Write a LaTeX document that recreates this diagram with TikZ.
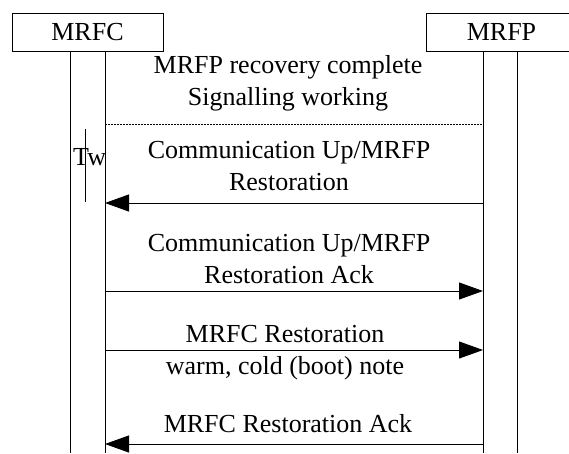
\documentclass[tikz,border=0pt]{standalone}
\usepackage{fontspec}
\setmainfont{Liberation Serif}
\usetikzlibrary{arrows.meta}

\tikzset{
  entity/.style={draw, line width=1pt, minimum width=151pt, minimum height=38pt, inner sep=0pt},
  lifeline/.style={line width=1pt},
  msg/.style={line width=1pt, -{Triangle[length=24pt,width=17pt]}},
  lbl/.style={align=center, inner sep=0pt},
}

\begin{document}
\begin{tikzpicture}[x=1pt,y=-1pt,font=\fontsize{26}{32}\selectfont]
  \useasboundingbox (0,0) rectangle (569,453);

  % entities at the top
  \node[entity] (mrfc) at (87.5,32) {MRFC};
  \node[entity] (mrfp) at (501.5,32) {MRFP};

  % two lifelines below each entity
  \foreach \n/\x in {ca/70, cb/105, pa/483, pb/517}
    {\coordinate (\n top) at (\x,51);
     \coordinate (\n bot) at (\x,453);
     \draw[lifeline] (\n top) -- (\n bot);}

  % end points of the messages
  \foreach \i/\y in {0/124, 1/203, 2/291, 3/350, 4/444}
    {\coordinate (c\i) at (105,\y);
     \coordinate (p\i) at (483,\y);}

  \node[lbl] (state) at (288,83.4) {MRFP recovery complete\\Signalling working};
  \draw[line width=0.8pt, dash pattern=on 1.5pt off 1.5pt] (c0) -- (p0);

  % timer Tw
  \coordinate (twtop) at (85,129);
  \coordinate (twbot) at (85,202);
  \draw[line width=1pt] (twtop) -- (twbot);
  \node[anchor=base west, inner sep=0pt] (tw) at (73,165) {Tw};

  \node[lbl] (m1) at (289,166.5) {Communication Up/MRFP\\Restoration};
  \draw[msg] (p1) -- (c1);

  \node[lbl] (m2) at (289,259.5) {Communication Up/MRFP\\Restoration Ack};
  \draw[msg] (c2) -- (p2);

  \node[lbl] (m3) at (285,352.9) {MRFC Restoration\\warm, cold (boot) note};
  \draw[msg] (c3) -- (p3);

  \node[lbl] (m4) at (288,424) {MRFC Restoration Ack};
  \draw[msg] (p4) -- (c4);
\end{tikzpicture}
\end{document}
